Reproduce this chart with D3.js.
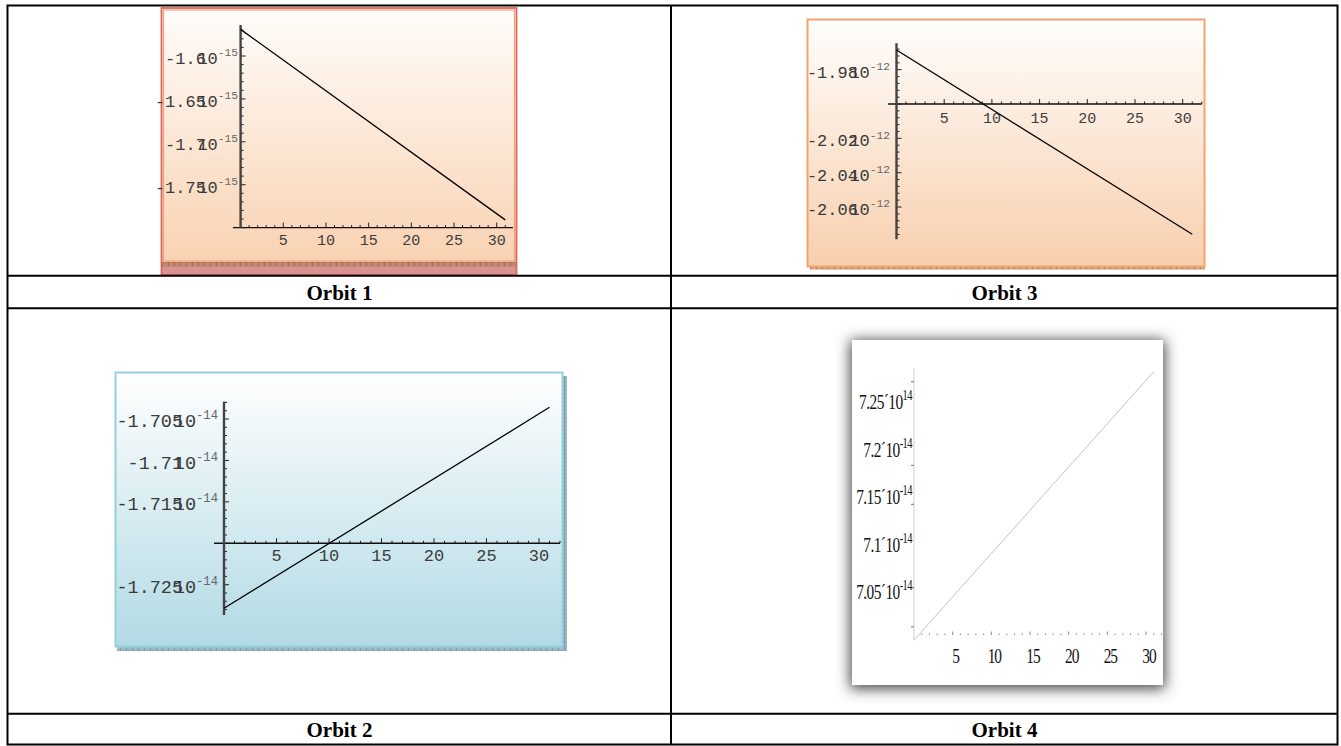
<!DOCTYPE html>
<html><head><meta charset="utf-8">
<script src="https://cdn.jsdelivr.net/npm/d3@7"></script>
<style>html,body{margin:0;padding:0;background:#fff;overflow:hidden}</style>
</head><body>
<svg id="c" width="1341" height="746"></svg>
<script>
// ---------------- data ----------------
const captions = ["Orbit 1", "Orbit 3", "Orbit 2", "Orbit 4"];
const xTicks = [5, 10, 15, 20, 25, 30];

const orbit1X = [0, 31];
const orbit1Y = [-1.569, -1.791];            // ×10^-15
const orbit1Ticks = [-1.6, -1.65, -1.7, -1.75];
const orbit1Labels = ["-1.6", "-1.65", "-1.7", "-1.75"];
const orbit1Exp = "-15";

const orbit3X = [0, 31];
const orbit3Y = [-1.9685, -2.0759];          // ×10^-12
const orbit3Ticks = [-1.98, -2.02, -2.04, -2.06];
const orbit3Labels = ["-1.98", "-2.02", "-2.04", "-2.06"];
const orbit3Exp = "-12";

const orbit2X = [0, 31];
const orbit2Y = [-1.72785, -1.70359];        // ×10^-14
const orbit2Ticks = [-1.705, -1.71, -1.715, -1.725];
const orbit2Labels = ["-1.705", "-1.71", "-1.715", "-1.725"];
const orbit2Exp = "-14";

const orbit4X = [0, 31];
const orbit4Y = [6.999, 7.2816];             // ×10^-14
const orbit4Ticks = [7.25, 7.2, 7.15, 7.1, 7.05];
const orbit4Labels = ["7.25\u00B410", "7.2\u00B410", "7.15\u00B410", "7.1\u00B410", "7.05\u00B410"];
const orbit4Exps = ["14", "-14", "-14", "-14", "-14"];
const orbit4AxisTicks = [7.271, 7.183, 7.142, 7.054, 7.013];

// ---------------- drawing ----------------
const svg = d3.select("#c");
const defs = svg.append("defs");

function grad(id, c1, c2) {
  const g = defs.append("linearGradient").attr("id", id)
    .attr("x1", 0).attr("y1", 0).attr("x2", 0).attr("y2", 1);
  g.append("stop").attr("offset", 0).attr("stop-color", c1);
  g.append("stop").attr("offset", 1).attr("stop-color", c2);
}
grad("peach1", "#fffdfb", "#f9d2b2");
grad("peach3", "#fffefc", "#f8cfae");
grad("blue2", "#ffffff", "#b2dae5");

function hatch(id, bg, fg) {
  const p = defs.append("pattern").attr("id", id).attr("width", 6).attr("height", 4)
    .attr("patternUnits", "userSpaceOnUse");
  p.append("rect").attr("width", 6).attr("height", 4).attr("fill", bg);
  p.append("rect").attr("x", 0).attr("width", 1).attr("height", 4).attr("fill", fg);
  p.append("rect").attr("y", 2).attr("width", 6).attr("height", 1).attr("fill", fg).attr("opacity", 0.5);
}
hatch("h1", "#c08a70", "#a86c55");
hatch("h3", "#d8a080", "#b87a60");
hatch("h2", "#9fbcc6", "#7e9ca8");

const f = defs.append("filter").attr("id", "shadow")
  .attr("x", -0.25).attr("y", -0.25).attr("width", 1.5).attr("height", 1.5);
f.append("feGaussianBlur").attr("stdDeviation", 7);

// ----- panels (backgrounds) -----
// Orbit 1
svg.append("rect").attr("x", 161).attr("y", 262).attr("width", 356).attr("height", 13).attr("fill", "#d9928f");
svg.append("rect").attr("x", 162).attr("y", 8).attr("width", 354).attr("height", 254).attr("fill", "url(#peach1)");
svg.append("rect").attr("x", 162).attr("y", 262).attr("width", 354).attr("height", 4.5).attr("fill", "url(#h1)");
svg.append("rect").attr("x", 161.5).attr("y", 8).attr("width", 355).attr("height", 267)
  .attr("fill", "none").attr("stroke", "#d8685a").attr("stroke-width", 1.8);
svg.append("rect").attr("x", 163.5).attr("y", 10).attr("width", 351).attr("height", 251)
  .attr("fill", "none").attr("stroke", "#f4a07a").attr("stroke-width", 1.2);

// Orbit 3
svg.append("rect").attr("x", 810).attr("y", 266).attr("width", 395).attr("height", 3.5).attr("fill", "url(#h3)");
svg.append("rect").attr("x", 807.5).attr("y", 19.5).attr("width", 397).attr("height", 247)
  .attr("fill", "url(#peach3)").attr("stroke", "#f2a46e").attr("stroke-width", 2);

// Orbit 2
svg.append("rect").attr("x", 117).attr("y", 647).attr("width", 450).attr("height", 4).attr("fill", "url(#h2)");
svg.append("rect").attr("x", 563).attr("y", 376).attr("width", 4).attr("height", 275).attr("fill", "url(#h2)");
svg.append("rect").attr("x", 115.5).attr("y", 372.5).attr("width", 447).attr("height", 274)
  .attr("fill", "url(#blue2)").attr("stroke", "#92cfdf").attr("stroke-width", 2);

// Orbit 4
svg.append("rect").attr("x", 850).attr("y", 340).attr("width", 315).attr("height", 349)
  .attr("fill", "#4a4a4a").attr("filter", "url(#shadow)");
svg.append("rect").attr("x", 852).attr("y", 340).attr("width", 311).attr("height", 345).attr("fill", "#fff");

// ----- Mathematica-style plots -----
function mathPlot(cfg) {
  const g = svg.append("g");
  const x = cfg.x, y = cfg.y;
  const ax = x(0), ay = y(cfg.xAxisAt);
  const yLo = Math.min(cfg.yExt[0], cfg.yExt[1]), yHi = Math.max(cfg.yExt[0], cfg.yExt[1]);
  const ys = [];
  const n0 = Math.ceil(yLo / cfg.yMinor - 1e-6), n1 = Math.floor(yHi / cfg.yMinor + 1e-6);
  for (let i = n0; i <= n1; i++) ys.push(i * cfg.yMinor);
  g.selectAll(null).data(ys).join("line")
    .attr("x1", ax).attr("x2", d => ax + (Math.abs(Math.round(d / cfg.yMinor)) % 5 === 0 ? 5 : 3))
    .attr("y1", d => y(d)).attr("y2", d => y(d))
    .attr("stroke", "#222").attr("stroke-width", 1);
  const xs = d3.range(1, Math.floor(cfg.xExt[1]) + 1);
  g.selectAll(null).data(xs).join("line")
    .attr("x1", d => x(d)).attr("x2", d => x(d))
    .attr("y1", ay).attr("y2", d => ay - (d % 5 === 0 ? 5 : 2.5))
    .attr("stroke", "#222").attr("stroke-width", 1);
  g.append("line").attr("x1", x(cfg.xExt[0])).attr("x2", x(cfg.xExt[1]))
    .attr("y1", ay).attr("y2", ay).attr("stroke", "#111").attr("stroke-width", 1.4);
  g.append("line").attr("x1", ax).attr("x2", ax)
    .attr("y1", y(cfg.yExt[0])).attr("y2", y(cfg.yExt[1])).attr("stroke", "#444").attr("stroke-width", 2.4);
  g.selectAll(null).data(xTicks).join("text")
    .attr("x", d => x(d)).attr("y", ay + cfg.xLabDy)
    .attr("text-anchor", "middle").attr("dy", "0.35em")
    .attr("font-family", "'Liberation Mono', 'Courier New', monospace")
    .attr("font-size", cfg.xFont).attr("fill", "#3c3c3c")
    .text(d => d);
  const fs = cfg.yFont;
  const t = g.selectAll(null).data(cfg.ticks).join("text")
    .attr("x", cfg.labRight).attr("y", d => y(d) + 2).attr("dy", "0.35em")
    .attr("text-anchor", "end")
    .attr("font-family", "'Liberation Mono', 'Courier New', monospace")
    .attr("font-size", fs).attr("fill", "#3a3a3a");
  t.append("tspan").text((d, i) => cfg.labels[i]);
  t.append("tspan").attr("dx", -fs * 0.5).text("10");
  t.append("tspan").attr("dy", -fs * 0.45).attr("font-size", fs * 0.66).attr("fill", "#666").text(cfg.exp);
  const pts = cfg.X.map((v, i) => [v, cfg.Y[i]]);
  g.append("path").datum(pts)
    .attr("d", d3.line().x(d => x(d[0])).y(d => y(d[1])))
    .attr("fill", "none").attr("stroke", "#000").attr("stroke-width", 1.3);
}

mathPlot({
  x: d3.scaleLinear().domain([0, 30]).range([240.6, 496.7]),
  y: d3.scaleLinear().domain([-1.6, -1.75]).range([56, 184.7]),
  xAxisAt: -1.8, xExt: [-0.9, 31.9], yExt: [-1.5639, -1.8], yMinor: 0.01,
  xFont: 15, xLabDy: 12, yFont: 17, labRight: 238,
  X: orbit1X, Y: orbit1Y, ticks: orbit1Ticks, labels: orbit1Labels, exp: orbit1Exp
});
mathPlot({
  x: d3.scaleLinear().domain([0, 30]).range([896.5, 1182.7]),
  y: d3.scaleLinear().domain([-1.98, -2.06]).range([69.7, 207]),
  xAxisAt: -2.0, xExt: [-0.89, 32.0], yExt: [-1.9646, -2.0788], yMinor: 0.004,
  xFont: 15, xLabDy: 14, yFont: 17, labRight: 890,
  X: orbit3X, Y: orbit3Y, ticks: orbit3Ticks, labels: orbit3Labels, exp: orbit3Exp
});
mathPlot({
  x: d3.scaleLinear().domain([0, 30]).range([224, 539]),
  y: d3.scaleLinear().domain([-1.705, -1.725]).range([419, 584.7]),
  xAxisAt: -1.72, xExt: [-0.95, 32.0], yExt: [-1.70291, -1.72866], yMinor: 0.001,
  xFont: 17, xLabDy: 12, yFont: 18.5, labRight: 218,
  X: orbit2X, Y: orbit2Y, ticks: orbit2Ticks, labels: orbit2Labels, exp: orbit2Exp
});

// ----- Maple-style plot (Orbit 4) -----
(function () {
  const g = svg.append("g");
  const x = d3.scaleLinear().domain([0, 30]).range([914, 1146]);
  const y = d3.scaleLinear().domain([7.25, 7.05]).range([401.7, 591.7]);
  const ay = y(7.0044);
  g.append("line").attr("x1", x(0)).attr("x2", x(0)).attr("y1", y(7.2855)).attr("y2", y(6.999))
    .attr("stroke", "#cfcfcf").attr("stroke-width", 1);
  g.selectAll(null).data(orbit4AxisTicks).join("line")
    .attr("x1", x(0) - 3).attr("x2", x(0)).attr("y1", d => y(d)).attr("y2", d => y(d))
    .attr("stroke", "#777").attr("stroke-width", 1);
  const xs = d3.range(1, 33);
  g.selectAll(null).data(xs).join("line")
    .attr("x1", d => x(d)).attr("x2", d => x(d))
    .attr("y1", ay).attr("y2", d => ay - (d % 5 === 0 ? 3.5 : 1.5))
    .attr("stroke", "#888").attr("stroke-width", 1);
  const font = "'Liberation Serif', 'Times New Roman', serif";
  g.selectAll(null).data(xTicks).join("text")
    .attr("transform", d => `translate(${x(d) + 3},${ay + 20}) scale(0.7,1)`)
    .attr("text-anchor", "middle").attr("dy", "0.35em")
    .attr("font-family", font).attr("font-size", 22).attr("fill", "#111")
    .attr("letter-spacing", -1.5)
    .text(d => d);
  const t = g.selectAll(null).data(orbit4Ticks).join("text")
    .attr("transform", d => `translate(912,${y(d)}) scale(0.7,1)`)
    .attr("text-anchor", "end").attr("dy", "0.35em")
    .attr("font-family", font).attr("font-size", 22).attr("fill", "#111")
    .attr("letter-spacing", -0.8);
  t.append("tspan").text((d, i) => orbit4Labels[i]);
  t.append("tspan").attr("dy", -9).attr("font-size", 15).text((d, i) => orbit4Exps[i]);
  const pts = orbit4X.map((v, i) => [v, orbit4Y[i]]);
  g.append("path").datum(pts)
    .attr("d", d3.line().x(d => x(d[0])).y(d => y(d[1])))
    .attr("fill", "none").attr("stroke", "#c4c4c4").attr("stroke-width", 1);
})();

// ----- table -----
const T = svg.append("g").attr("stroke", "#000").attr("stroke-width", 2);
T.append("rect").attr("x", 7.5).attr("y", 5.5).attr("width", 1330).attr("height", 739).attr("fill", "none");
T.append("line").attr("x1", 671).attr("x2", 671).attr("y1", 5.5).attr("y2", 744.5);
[275.7, 308.3, 713.7].forEach(yy => T.append("line").attr("x1", 7.5).attr("x2", 1337.5).attr("y1", yy).attr("y2", yy));

const capPos = [[339.5, 299.5], [1004.5, 299.5], [339.5, 737], [1004.5, 737]];
svg.selectAll("text.cap").data(captions).join("text").attr("class", "cap")
  .attr("x", (d, i) => capPos[i][0]).attr("y", (d, i) => capPos[i][1])
  .attr("text-anchor", "middle")
  .attr("font-family", "'Liberation Serif', 'Times New Roman', serif")
  .attr("font-weight", "bold").attr("font-size", 21).attr("fill", "#000")
  .text(d => d);
</script>
</body></html>
